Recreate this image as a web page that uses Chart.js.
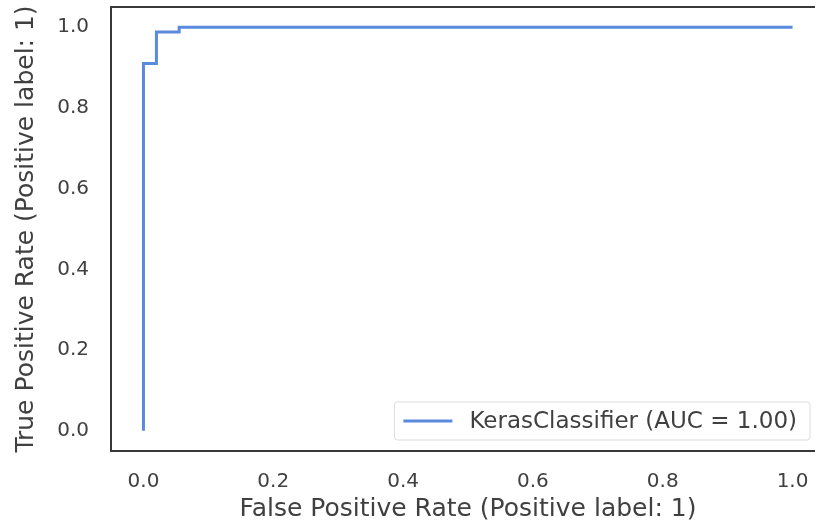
<!DOCTYPE html>
<html>
<head>
<meta charset="utf-8">
<script src="https://cdn.jsdelivr.net/npm/chart.js@4/dist/chart.umd.min.js"></script>
<style>
  html, body { margin: 0; padding: 0; background: #fff; overflow: hidden; }
  #wrap { width: 826px; height: 524px; position: relative; }
</style>
</head>
<body>
<div id="wrap"><canvas id="c"></canvas></div>
<script>
// ---- data ----
const fpr = [0.0, 0.0, 0.02, 0.02, 0.055, 0.055, 1.0];
const tpr = [0.0, 0.91, 0.91, 0.988, 0.988, 1.0, 1.0];
const seriesLabel = 'KerasClassifier (AUC = 1.00)';
const xTickValues = [0.0, 0.2, 0.4, 0.6, 0.8, 1.0];
const yTickValues = [0.0, 0.2, 0.4, 0.6, 0.8, 1.0];
const xTitle = 'False Positive Rate (Positive label: 1)';
const yTitle = 'True Positive Rate (Positive label: 1)';

const FONT = 'DejaVu Sans';
const TEXT = '#404040';
const LINE = '#5a8ade';

const framePlugin = {
  id: 'frame',
  afterDraw(chart) {
    const {ctx, chartArea: a} = chart;
    ctx.save();
    ctx.strokeStyle = '#383838';
    ctx.lineWidth = 2;
    ctx.strokeRect(a.left, a.top, a.right - a.left, a.bottom - a.top);

    // legend box inside the axes, lower right
    const ds = chart.data.datasets[0];
    ctx.font = '23px "' + FONT + '"';
    const tw = ctx.measureText(ds.label).width;
    const boxH = 38;
    const boxW = 75 + tw + 13;
    const bx = 810 - boxW;
    const by = a.bottom - 11 - boxH;
    ctx.beginPath();
    if (ctx.roundRect) ctx.roundRect(bx, by, boxW, boxH, 3); else ctx.rect(bx, by, boxW, boxH);
    ctx.fillStyle = 'rgba(255,255,255,0.85)';
    ctx.fill();
    ctx.strokeStyle = '#dcdcdc';
    ctx.lineWidth = 1;
    ctx.stroke();
    const cy = by + boxH / 2;
    ctx.beginPath();
    ctx.moveTo(bx + 9, cy);
    ctx.lineTo(bx + 58, cy);
    ctx.strokeStyle = ds.borderColor;
    ctx.lineWidth = 3;
    ctx.stroke();
    ctx.fillStyle = TEXT;
    ctx.textBaseline = 'middle';
    ctx.textAlign = 'left';
    ctx.fillText(ds.label, bx + 75, cy + 1);
    ctx.restore();
  }
};

new Chart(document.getElementById('c'), {
  type: 'line',
  data: {
    datasets: [{
      label: seriesLabel,
      data: fpr.map((x, i) => ({x: x, y: tpr[i]})),
      borderColor: LINE,
      borderWidth: 3,
      pointRadius: 0,
      tension: 0,
      fill: false
    }]
  },
  options: {
    responsive: true,
    maintainAspectRatio: false,
    animation: false,
    layout: { padding: { top: 7, right: 1, left: 0, bottom: 0 } },
    plugins: {
      legend: { display: false },
      tooltip: { enabled: false }
    },
    scales: {
      x: {
        type: 'linear',
        min: -0.05, max: 1.05,
        grid: { display: false, drawTicks: false },
        border: { display: false },
        afterBuildTicks: s => { s.ticks = xTickValues.map(v => ({value: v})); },
        afterFit: s => { s.height = 73; s.paddingLeft = 0; s.paddingRight = 0; },
        ticks: {
          padding: 19,
          color: TEXT,
          font: { family: FONT, size: 20 },
          callback: v => Number(v).toFixed(1),
          maxRotation: 0
        },
        title: {
          display: true, text: xTitle, color: TEXT,
          font: { family: FONT, size: 25 },
          padding: { top: 0, bottom: 0 }
        }
      },
      y: {
        type: 'linear',
        min: -0.05, max: 1.05,
        grid: { display: false, drawTicks: false },
        border: { display: false },
        afterBuildTicks: s => { s.ticks = yTickValues.map(v => ({value: v})); },
        afterFit: s => { s.width = 111; s.paddingTop = 0; s.paddingBottom = 0; },
        ticks: {
          padding: 22,
          color: TEXT,
          font: { family: FONT, size: 20 },
          callback: v => Number(v).toFixed(1)
        },
        title: {
          display: true, text: yTitle, color: TEXT,
          font: { family: FONT, size: 25 },
          padding: { top: 11, bottom: 0 }
        }
      }
    }
  },
  plugins: [framePlugin]
});
</script>
</body>
</html>
